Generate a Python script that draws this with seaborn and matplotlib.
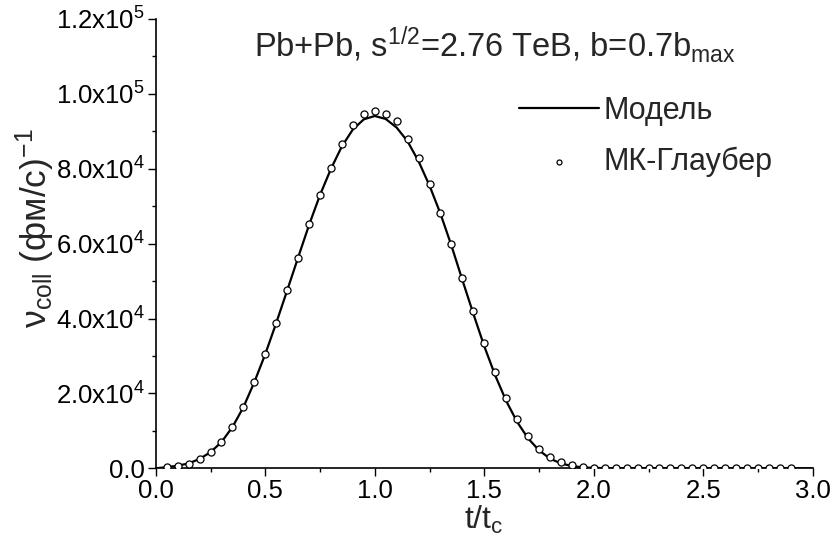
import numpy as np
import pandas as pd
import matplotlib
matplotlib.use("Agg")
import matplotlib.pyplot as plt
import seaborn as sns
from matplotlib.ticker import MultipleLocator, FuncFormatter

# ---- data ----
model_t = [0.0, 0.05, 0.1, 0.15, 0.2, 0.25, 0.3, 0.35, 0.4, 0.45, 0.5, 0.55, 0.6,
           0.65, 0.7, 0.75, 0.8, 0.85, 0.9, 0.95, 1.0, 1.05, 1.1, 1.15, 1.2, 1.25,
           1.3, 1.35, 1.4, 1.45, 1.5, 1.55, 1.6, 1.65, 1.7, 1.75, 1.8, 1.85, 1.9,
           1.95, 2.0, 2.1, 2.2, 2.4, 2.6, 2.8, 3.0]
model_v = [0, 300, 700, 1300, 2500, 4300, 7000, 11000, 16300, 23000, 30500, 38800,
           47500, 56300, 65000, 73000, 80000, 86000, 90500, 93200, 94100, 93300,
           91000, 87300, 82000, 75500, 68000, 59500, 50300, 41300, 32600, 24800,
           18000, 12400, 8000, 4800, 2600, 1300, 600, 250, 100, 30, 10, 0, 0, 0, 0]

mc_t = [0.05, 0.1, 0.15, 0.2, 0.25, 0.3, 0.35, 0.4, 0.45, 0.5, 0.55, 0.6, 0.65,
        0.7, 0.75, 0.8, 0.85, 0.9, 0.95, 1.0, 1.05, 1.1, 1.15, 1.2, 1.25, 1.3,
        1.35, 1.4, 1.45, 1.5, 1.55, 1.6, 1.65, 1.7, 1.75, 1.8, 1.85, 1.9, 1.95,
        2.0, 2.05, 2.1, 2.15, 2.2, 2.25, 2.3, 2.35, 2.4, 2.45, 2.5, 2.55, 2.6,
        2.65, 2.7, 2.75, 2.8, 2.85, 2.9]
mc_v = [300, 700, 1200, 2500, 4400, 7100, 11100, 16500, 23100, 30600, 38700,
        47500, 56200, 65300, 73100, 80100, 86700, 91600, 94700, 95500, 94700,
        92700, 88000, 82800, 75800, 68100, 59800, 50700, 42100, 33500, 25600,
        18800, 13100, 8550, 5200, 3100, 1600, 800, 400, 150, 60, 30, 20, 10, 0,
        0, 0, 0, 0, 0, 0, 0, 0, 0, 0, 0, 0, 0]

title_text = r"Pb+Pb, s$^{1/2}$=2.76 TeB, b=0.7b$_{\rm max}$"
x_label = r"t/t$_{\rm c}$"
y_label = r"ν$_{\rm coll}$ (фм/с)$^{-1}$"
legend_labels = ["Модель", "МК-Глаубер"]

# ---- style ----
sns.set_style("ticks")
plt.rcParams['font.family'] = ['Liberation Sans', 'DejaVu Sans']
plt.rcParams['mathtext.fontset'] = 'custom'
plt.rcParams['mathtext.rm'] = 'Liberation Sans'
plt.rcParams['mathtext.it'] = 'Liberation Sans:italic'
plt.rcParams['mathtext.bf'] = 'Liberation Sans:bold'

fig = plt.figure(figsize=(8.33, 5.49), dpi=100)
ax = fig.add_axes([0.187, 0.147, 0.7887, 0.8184])

df_model = pd.DataFrame({"t": model_t, "v": model_v})
df_mc = pd.DataFrame({"t": mc_t, "v": mc_v})

sns.lineplot(data=df_model, x="t", y="v", ax=ax, color="black", linewidth=1.6,
             label=legend_labels[0])
sns.scatterplot(data=df_mc, x="t", y="v", ax=ax, marker="o", s=26,
                facecolor="white", edgecolor="black", linewidth=0.9,
                label=legend_labels[1], zorder=3)

ax.set_xlim(0, 3.0)
ax.set_ylim(0, 1.2e5)
ax.xaxis.set_major_locator(MultipleLocator(0.5))
ax.xaxis.set_minor_locator(MultipleLocator(0.25))
ax.yaxis.set_major_locator(MultipleLocator(2e4))
ax.yaxis.set_minor_locator(MultipleLocator(1e4))


def yfmt(v, pos):
    if abs(v) < 1e-9:
        return "0.0"
    e = int(np.floor(np.log10(abs(v))))
    m = v / 10 ** e
    return f"{m:.1f}x10$^{{{e}}}$"


ax.yaxis.set_major_formatter(FuncFormatter(yfmt))
ax.xaxis.set_major_formatter(FuncFormatter(lambda v, p: f"{v:.1f}"))

ax.tick_params(axis="both", which="major", direction="out", length=6, width=1,
               labelsize=18.5, color="black", labelcolor="black", pad=2)
ax.tick_params(axis="both", which="minor", direction="out", length=3, width=1,
               color="black")
for s in ["left", "bottom"]:
    ax.spines[s].set_linewidth(1.2)
    ax.spines[s].set_color("black")
sns.despine(ax=ax)

ax.set_xlabel(x_label, fontsize=23, labelpad=0)
ax.set_ylabel(y_label, fontsize=25.5)
ax.yaxis.set_label_coords(-0.15, 0.535)

ax.text(1.55, 1.13e5, title_text, ha="center", va="center", fontsize=23.5)

leg = ax.legend(loc="upper left", bbox_to_anchor=(0.535, 0.856), frameon=False,
                fontsize=22, handlelength=2.6, handletextpad=0.15,
                labelspacing=0.68, markerscale=0.7, borderaxespad=0)

fig.savefig("out.png", dpi=100)
